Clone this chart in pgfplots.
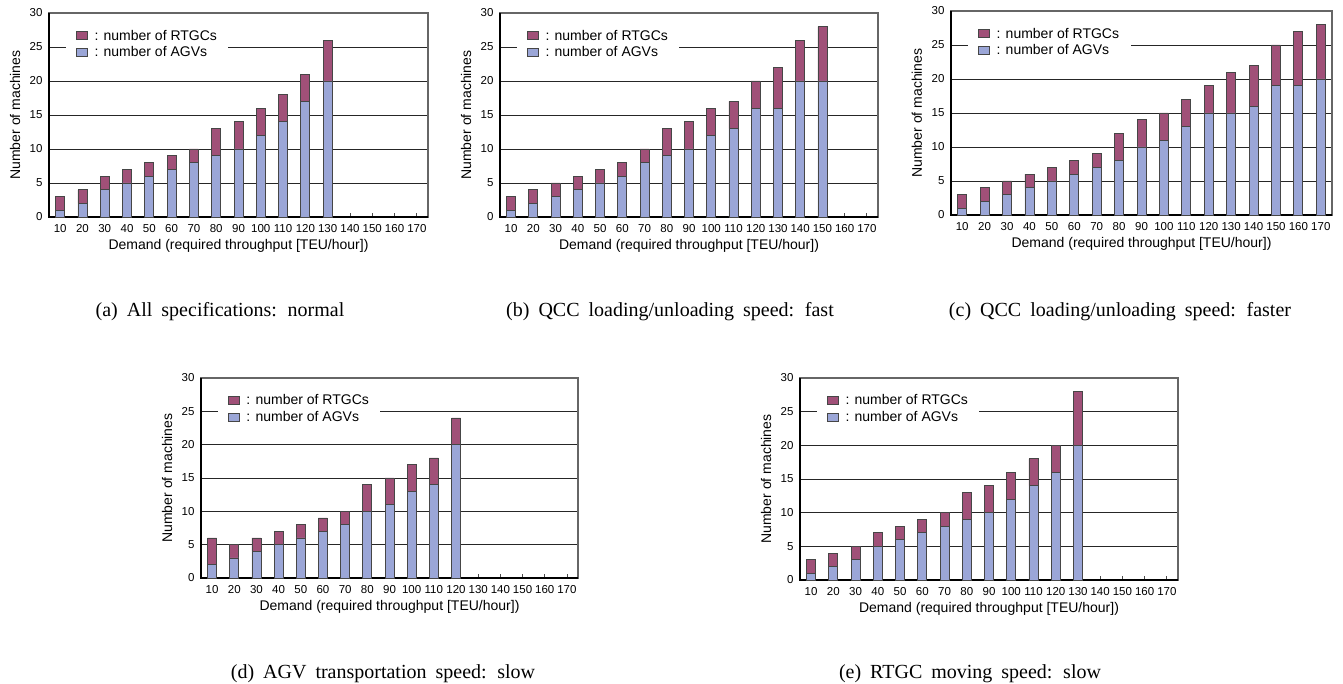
\documentclass[border=0pt]{standalone}
\usepackage{pgfplots}
\pgfplotsset{compat=1.18}
\usepackage{fontspec}
\setmainfont{Liberation Serif}
\setsansfont{Liberation Sans}
\definecolor{rtgc}{RGB}{160,80,120}
\definecolor{agv}{RGB}{155,166,215}
\definecolor{edge}{RGB}{70,70,70}
\newcommand{\tickfont}{\sffamily\fontsize{11.5}{13}\selectfont}
\newcommand{\labfont}{\sffamily\fontsize{14}{16}\selectfont}
\pgfplotsset{
  machines/.style={
    scale only axis,
    width=379pt, height=204pt,
    ybar stacked, bar width=9pt,
    xmin=0.5, xmax=17.5, ymin=0, ymax=30,
    xtick={1,...,17},
    xticklabels={10,20,30,40,50,60,70,80,90,100,110,120,130,140,150,160,170},
    ytick={0,5,...,30},
    xtick pos=bottom, ytick pos=left,
    tick align=inside, major tick length=4pt,
    ytick style={draw=none},
    xtick style={black!70, line width=0.8pt},
    ymajorgrids, grid style={black!85, line width=0.8pt},
    axis line style={black!60, line width=1.2pt},
    /pgf/number format/assume math mode=true,
    xticklabel style={font=\tickfont, yshift=-4pt},
    yticklabel style={font=\tickfont, xshift=-3pt},
    yticklabel={\pgfmathprintnumber{\tick}},
    xlabel={Demand (required throughput [TEU/hour])},
    ylabel={Number of machines},
    every axis x label/.style={at={(axis description cs:0.5,-0.142)}, anchor=center, font=\labfont},
    every axis y label/.style={at={(axis description cs:-0.0897,0.5)}, rotate=90, anchor=center, font=\labfont},
    legend style={at={(axis description cs:0.045,0.93)}, anchor=north west,
      draw=none, fill=white, inner xsep=10pt, inner ysep=1pt,
      font=\labfont, row sep=2pt,
      nodes={inner sep=1.5pt},
      /tikz/every odd column/.append style={column sep=5pt}},
    legend cell align=left,
    reverse legend,
    legend image code/.code={\draw[#1, line width=0.8pt] (0pt,-4pt) rectangle (11pt,4pt);},
    enlargelimits=false,
    clip=false,
  },
  agvbar/.style={fill=agv, draw=edge, line width=0.8pt},
  rtgcbar/.style={fill=rtgc, draw=edge, line width=0.8pt},
}
\newcommand{\blackframe}{\draw[black, line width=1.6pt] (rel axis cs:0,1) -- (rel axis cs:0,0) -- (rel axis cs:1,0);}
\newcommand{\capt}[1]{\fontsize{20}{24}\selectfont\spaceskip=9pt\relax #1}
\begin{document}
\begin{tikzpicture}[x=1pt,y=1pt]
\path (0,0) rectangle (1343,684);
% (a)
\begin{axis}[machines, at={(49pt,467pt)}, anchor=south west]
\addplot[agvbar] coordinates {(1,1) (2,2) (3,4) (4,5) (5,6) (6,7) (7,8) (8,9) (9,10) (10,12) (11,14) (12,17) (13,20)};
\addplot[rtgcbar] coordinates {(1,2) (2,2) (3,2) (4,2) (5,2) (6,2) (7,2) (8,4) (9,4) (10,4) (11,4) (12,4) (13,6)};
\legend{: number of AGVs, : number of RTGCs}
\blackframe
\end{axis}
% (b)
\begin{axis}[machines, width=378pt, at={(500pt,467pt)}, anchor=south west]
\addplot[agvbar] coordinates {(1,1) (2,2) (3,3) (4,4) (5,5) (6,6) (7,8) (8,9) (9,10) (10,12) (11,13) (12,16) (13,16) (14,20) (15,20)};
\addplot[rtgcbar] coordinates {(1,2) (2,2) (3,2) (4,2) (5,2) (6,2) (7,2) (8,4) (9,4) (10,4) (11,4) (12,4) (13,6) (14,6) (15,8)};
\legend{: number of AGVs, : number of RTGCs}
\blackframe
\end{axis}
% (c)
\begin{axis}[machines, width=381pt, at={(951pt,469pt)}, anchor=south west]
\addplot[agvbar] coordinates {(1,1) (2,2) (3,3) (4,4) (5,5) (6,6) (7,7) (8,8) (9,10) (10,11) (11,13) (12,15) (13,15) (14,16) (15,19) (16,19) (17,20)};
\addplot[rtgcbar] coordinates {(1,2) (2,2) (3,2) (4,2) (5,2) (6,2) (7,2) (8,4) (9,4) (10,4) (11,4) (12,4) (13,6) (14,6) (15,6) (16,8) (17,8)};
\legend{: number of AGVs, : number of RTGCs}
\blackframe
\end{axis}
% (d)
\begin{axis}[machines, width=377pt, height=200pt, at={(201pt,106pt)}, anchor=south west]
\addplot[agvbar] coordinates {(1,2) (2,3) (3,4) (4,5) (5,6) (6,7) (7,8) (8,10) (9,11) (10,13) (11,14) (12,20)};
\addplot[rtgcbar] coordinates {(1,4) (2,2) (3,2) (4,2) (5,2) (6,2) (7,2) (8,4) (9,4) (10,4) (11,4) (12,4)};
\legend{: number of AGVs, : number of RTGCs}
\blackframe
\end{axis}
% (e)
\begin{axis}[machines, width=378pt, height=202pt, at={(800pt,104pt)}, anchor=south west]
\addplot[agvbar] coordinates {(1,1) (2,2) (3,3) (4,5) (5,6) (6,7) (7,8) (8,9) (9,10) (10,12) (11,14) (12,16) (13,20)};
\addplot[rtgcbar] coordinates {(1,2) (2,2) (3,2) (4,2) (5,2) (6,2) (7,2) (8,4) (9,4) (10,4) (11,4) (12,4) (13,8)};
\legend{: number of AGVs, : number of RTGCs}
\blackframe
\end{axis}
% captions
\begin{scope}[every node/.style={anchor=base, inner sep=0pt}]
\node at (220,367) {\capt{(a) All specifications: normal}};
\node at (670,367) {\capt{(b) QCC loading/unloading speed: fast}};
\node at (1120,367) {\capt{(c) QCC loading/unloading speed: faster}};
\node at (383,5) {\capt{(d) AGV transportation speed: slow}};
\node at (970,5) {\capt{(e) RTGC moving speed: slow}};
\end{scope}
\end{tikzpicture}
\end{document}
